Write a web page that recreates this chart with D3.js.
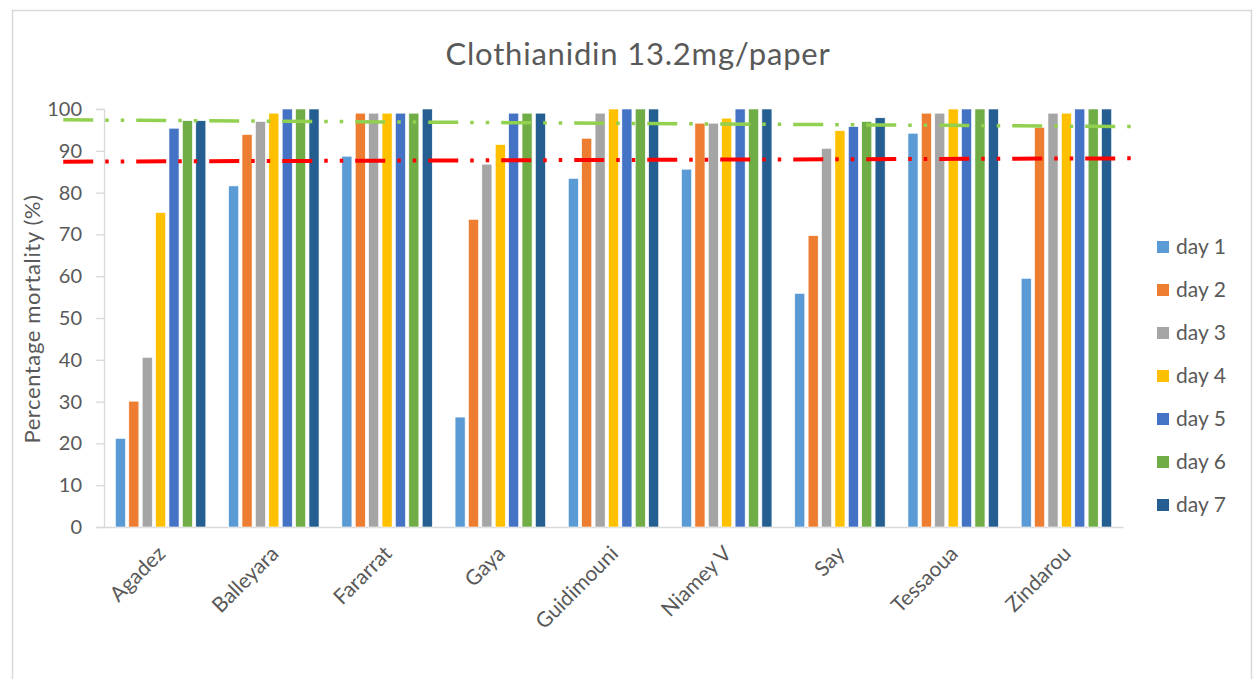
<!DOCTYPE html>
<html>
<head>
<meta charset="utf-8">
<script src="https://cdn.jsdelivr.net/npm/d3@7"></script>
<style>
  html, body { margin: 0; padding: 0; background: #fff; }
  svg { display: block; font-family: Lato, "Open Sans", sans-serif; }
</style>
</head>
<body>
<svg id="chart" width="1256" height="679"></svg>
<script>
const title = "Clothianidin 13.2mg/paper";
const yTitle = "Percentage mortality (%)";
const categories = ["Agadez", "Balleyara", "Fararrat", "Gaya", "Guidimouni", "Niamey V", "Say", "Tessaoua", "Zindarou"];
const days = ["day 1", "day 2", "day 3", "day 4", "day 5", "day 6", "day 7"];
const day1 = [21.2, 81.6, 88.7, 26.3, 83.4, 85.6, 55.9, 94.2, 59.5];
const day2 = [30.1, 93.9, 99, 73.6, 93, 96.6, 69.7, 99, 95.6];
const day3 = [40.6, 97, 99, 86.8, 99, 96.6, 90.6, 99, 99];
const day4 = [75.2, 99, 99, 91.5, 100, 97.8, 94.8, 100, 99];
const day5 = [95.4, 100, 99, 99, 100, 100, 95.8, 100, 100];
const day6 = [97.2, 100, 99, 99, 100, 100, 97, 100, 100];
const day7 = [97.2, 100, 100, 99, 100, 100, 97.9, 100, 100];
const colors = ["#5B9BD5", "#ED7D31", "#A5A5A5", "#FFC000", "#4472C4", "#70AD47", "#255E91"];
const yTicks = [0, 10, 20, 30, 40, 50, 60, 70, 80, 90, 100];
// reference lines: value at start and at end, x extent in category-index units
const lineX = [-0.86, 8.58];
const greenLine = [97.4, 95.8];
const redLine = [87.4, 88.2];

const series = [day1, day2, day3, day4, day5, day6, day7];

const svg = d3.select("#chart");
const m = { left: 104, right: 1123, top: 109, bottom: 527 };

// outer border
svg.append("rect").attr("x", 12.5).attr("y", 10.5).attr("width", 1239).attr("height", 700)
  .attr("fill", "#fff").attr("stroke", "#D9D9D9").attr("stroke-width", 1.5);

const x0 = d3.scaleBand().domain(categories).range([m.left, m.right]).padding(0);
const groupW = 90.4;
const x1 = d3.scaleBand().domain(days).range([-groupW / 2, groupW / 2]).paddingInner(0.25).paddingOuter(0);
const y = d3.scaleLinear().domain([0, 100]).range([m.bottom, m.top]);
const xi = d3.scaleLinear().domain([-0.5, categories.length - 0.5]).range([m.left, m.right]);

// title
svg.append("text").attr("x", 638).attr("y", 65).attr("text-anchor", "middle")
  .attr("font-size", 31).attr("letter-spacing", 0.8).attr("fill", "#595959").text(title);

// y axis
const yAxis = d3.axisLeft(y).tickValues(yTicks).tickSize(8).tickPadding(14);
const gy = svg.append("g").attr("transform", `translate(${m.left},0)`).call(yAxis);
gy.select(".domain").attr("stroke", "#D9D9D9").attr("stroke-width", 1.3);
gy.selectAll(".tick line").attr("stroke", "#D9D9D9").attr("stroke-width", 1.3);
gy.selectAll(".tick text").attr("fill", "#595959").attr("font-size", 20).attr("font-family", "Lato, sans-serif");

// x axis
const gx = svg.append("g").attr("transform", `translate(0,${m.bottom})`)
  .call(d3.axisBottom(x0).tickSize(0).tickPadding(0));
gx.select(".domain").attr("stroke", "#D9D9D9").attr("stroke-width", 1.3);
gx.selectAll(".tick text")
  .attr("fill", "#595959").attr("font-size", 21).attr("font-family", "Lato, sans-serif")
  .attr("text-anchor", "end").attr("dy", 0)
  .attr("transform", "translate(6,28) rotate(-45)");

// y title
svg.append("text").attr("transform", `translate(40,${(m.top + m.bottom) / 2 + 1}) rotate(-90)`)
  .attr("text-anchor", "middle").attr("font-size", 22).attr("letter-spacing", 0.6)
  .attr("fill", "#595959").text(yTitle);

// bars
const groups = svg.append("g").selectAll("g").data(categories).join("g")
  .attr("transform", d => `translate(${x0(d) + x0.bandwidth() / 2},0)`);
groups.selectAll("rect").data((c, ci) => days.map((d, di) => ({ day: d, di, v: series[di][ci] })))
  .join("rect")
  .attr("x", d => x1(d.day))
  .attr("width", x1.bandwidth())
  .attr("y", d => y(d.v))
  .attr("height", d => y(0) - y(d.v))
  .attr("fill", d => colors[d.di])
  .attr("stroke", "#fff").attr("stroke-width", 0.6);

// reference lines
const lineGen = d3.line().x(d => xi(d[0])).y(d => y(d[1]));
svg.append("path").datum([[lineX[0], greenLine[0]], [lineX[1], greenLine[1]]])
  .attr("d", lineGen).attr("fill", "none").attr("stroke", "#92D050").attr("stroke-width", 3.5)
  .attr("stroke-dasharray", "30,12,3.5,12,3.5,12");
svg.append("path").datum([[lineX[0], redLine[0]], [lineX[1], redLine[1]]])
  .attr("d", lineGen).attr("fill", "none").attr("stroke", "#FF0000").attr("stroke-width", 4)
  .attr("stroke-dasharray", "30,12,3.5,12,3.5,12");

// legend
const lg = svg.append("g").selectAll("g").data(days).join("g")
  .attr("transform", (d, i) => `translate(1157,${247 + i * 43})`);
lg.append("rect").attr("x", 0).attr("y", -6).attr("width", 12).attr("height", 12)
  .attr("fill", (d, i) => colors[i]);
lg.append("text").attr("x", 19).attr("y", 7).attr("font-size", 21).attr("fill", "#595959").text(d => d);
</script>
</body>
</html>
